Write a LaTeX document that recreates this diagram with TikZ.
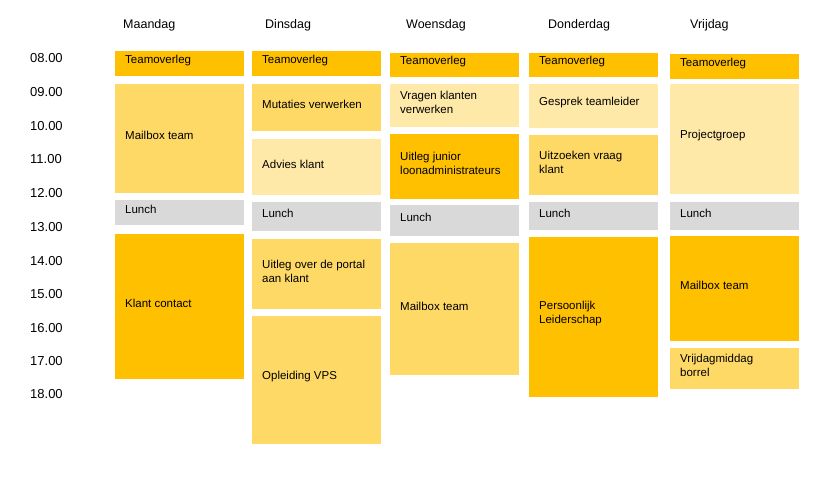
\documentclass[tikz,border=0pt]{standalone}
\usepackage{fontspec}
\setmainfont{Liberation Sans}
\definecolor{cdark}{HTML}{FFC000}
\definecolor{cmed}{HTML}{FFD966}
\definecolor{clight}{HTML}{FFE9A8}
\definecolor{cgrey}{HTML}{D9D9D9}
\tikzset{
  slot/.style={draw=none,inner sep=0pt,outer sep=0pt},
  lbl/.style={anchor=west,align=left,font=\fontsize{11.5}{14}\selectfont,inner sep=0pt},
  hdr/.style={anchor=west,font=\fontsize{12.5}{15}\selectfont,inner sep=0pt},
  tm/.style={anchor=west,font=\fontsize{13}{15}\selectfont,inner sep=0pt}
}
\newcommand{\slotbox}[7]{% name, x1, y1, x2, y2, colour, text
  \fill[#6] (#2,#3) rectangle (#4,#5);
  \node[lbl] (#1) at ({#2+10},{(#3+#5)/2-3}) {#7};
}
\begin{document}
\begin{tikzpicture}[x=1pt,y=-1pt]
\useasboundingbox (0,0) rectangle (816,483);
\fill[white] (0,0) rectangle (816,483);
\node[hdr] (h1) at (123,25) {Maandag};
\node[hdr] (h2) at (265,25) {Dinsdag};
\node[hdr] (h3) at (406,25) {Woensdag};
\node[hdr] (h4) at (548,25) {Donderdag};
\node[hdr] (h5) at (690,25) {Vrijdag};
\node[tm] (t08) at (30,58) {08.00};
\node[tm] (t09) at (30,92) {09.00};
\node[tm] (t10) at (30,126) {10.00};
\node[tm] (t11) at (30,159) {11.00};
\node[tm] (t12) at (30,193) {12.00};
\node[tm] (t13) at (30,227) {13.00};
\node[tm] (t14) at (30,261) {14.00};
\node[tm] (t15) at (30,294) {15.00};
\node[tm] (t16) at (30,328) {16.00};
\node[tm] (t17) at (30,361) {17.00};
\node[tm] (t18) at (30,394) {18.00};
% Maandag
\slotbox{a1}{115}{51}{244}{76}{cdark}{Teamoverleg}
\slotbox{a2}{115}{84}{244}{193}{cmed}{Mailbox team}
\slotbox{a3}{115}{200}{244}{225}{cgrey}{Lunch}
\slotbox{a4}{115}{234}{244}{379}{cdark}{Klant contact}
% Dinsdag
\slotbox{b1}{252}{51}{381}{76}{cdark}{Teamoverleg}
\slotbox{b2}{252}{84}{381}{131}{cmed}{Mutaties verwerken}
\slotbox{b3}{252}{139}{381}{195}{clight}{Advies klant}
\slotbox{b4}{252}{202}{381}{231}{cgrey}{Lunch}
\slotbox{b5}{252}{239}{381}{309}{cmed}{Uitleg over de portal\\aan klant}
\slotbox{b6}{252}{316}{381}{444}{cmed}{Opleiding VPS}
% Woensdag
\slotbox{c1}{390}{53}{519}{77}{cdark}{Teamoverleg}
\slotbox{c2}{390}{84}{519}{127}{clight}{Vragen klanten\\verwerken}
\slotbox{c3}{390}{134}{519}{199}{cdark}{Uitleg junior\\loonadministrateurs}
\slotbox{c4}{390}{205}{519}{236}{cgrey}{Lunch}
\slotbox{c5}{390}{243}{519}{375}{cmed}{Mailbox team}
% Donderdag
\slotbox{d1}{529}{53}{658}{77}{cdark}{Teamoverleg}
\slotbox{d2}{529}{84}{658}{128}{clight}{Gesprek teamleider}
\slotbox{d3}{529}{135}{658}{195}{cmed}{Uitzoeken vraag\\klant}
\slotbox{d4}{529}{202}{658}{230}{cgrey}{Lunch}
\slotbox{d5}{529}{237}{658}{397}{cdark}{Persoonlijk\\Leiderschap}
% Vrijdag
\slotbox{e1}{670}{54}{799}{79}{cdark}{Teamoverleg}
\slotbox{e2}{670}{84}{799}{194}{clight}{Projectgroep}
\slotbox{e3}{670}{202}{799}{230}{cgrey}{Lunch}
\slotbox{e4}{670}{236}{799}{341}{cdark}{Mailbox team}
\slotbox{e5}{670}{348}{799}{389}{cmed}{Vrijdagmiddag\\borrel}
\end{tikzpicture}
\end{document}
